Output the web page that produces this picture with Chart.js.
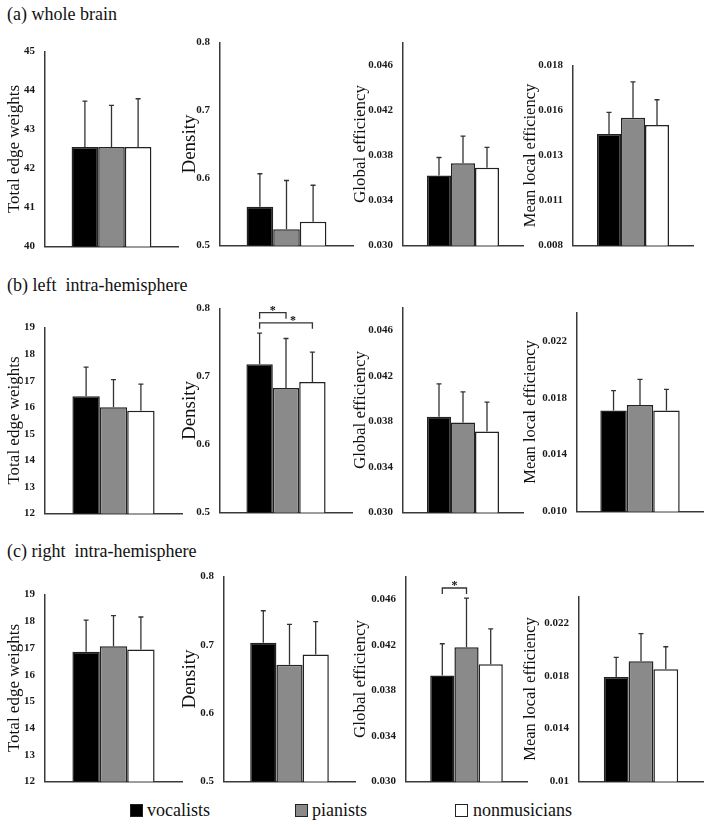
<!DOCTYPE html>
<html>
<head>
<meta charset="utf-8">
<script src="https://cdn.jsdelivr.net/npm/chart.js@4.4.0/dist/chart.umd.min.js"></script>
<style>
  body { margin: 0; background: #fff; }
  #fig { position: relative; width: 709px; height: 825px; font-family: "Liberation Serif", "Times New Roman", serif; color: #111; }
  #fig canvas { position: absolute; }
  .region { position: absolute; left: 7px; font-size: 18px; line-height: 20px; white-space: pre; }
  .key { position: absolute; top: 804px; width: 11px; height: 11px; border: 1px solid #222; }
  .keytext { position: absolute; top: 799px; font-size: 18px; line-height: 22px; }
</style>
</head>
<body>
<div id="fig"></div>
<script>
// groups, metrics and regions
var groups = ['vocalists', 'pianists', 'nonmusicians'];
var metrics = ['Total edge weights', 'Density', 'Global efficiency', 'Mean local efficiency'];
var regions = ['(a) whole brain', '(b) left  intra-hemisphere', '(c) right  intra-hemisphere'];

// means and SDs, one row per metric, [vocalists, pianists, nonmusicians]
var wholeMean = [[42.55, 42.55, 42.55], [0.557, 0.524, 0.535], [0.0362, 0.0373, 0.0369], [0.0142, 0.0151, 0.0147]];
var wholeSD   = [[1.18, 1.07, 1.24], [0.049, 0.072, 0.054], [0.0016, 0.0024, 0.0018], [0.0012, 0.0020, 0.0014]];
var leftMean  = [[16.41, 16.00, 15.87], [0.718, 0.683, 0.692], [0.0384, 0.0379, 0.0371], [0.0171, 0.0175, 0.0171]];
var leftSD    = [[1.10, 1.04, 1.00], [0.046, 0.073, 0.044], [0.0029, 0.0027, 0.0026], [0.0014, 0.0018, 0.0015]];
var rightMean = [[16.86, 17.06, 16.94], [0.703, 0.671, 0.686], [0.0393, 0.0418, 0.0403], [0.0179, 0.0191, 0.0185]];
var rightSD   = [[1.18, 1.15, 1.22], [0.047, 0.059, 0.048], [0.0028, 0.0043, 0.0031], [0.0015, 0.0021, 0.0017]];

// axis ranges and ticks
var edgeWholeRange = [40, 45];
var edgeWholeTicks = [40, 41, 42, 43, 44, 45];
var edgeHemiRange = [12, 19];
var edgeHemiTicks = [12, 13, 14, 15, 16, 17, 18, 19];
var densityRange = [0.5, 0.8];
var densityTicks = [0.5, 0.6, 0.7, 0.8];
var densityLabels = ['0.5', '0.6', '0.7', '0.8'];
var globalRange = [0.030, 0.048];
var globalTicks = [0.030, 0.034, 0.038, 0.042, 0.046];
var globalLabels = ['0.030', '0.034', '0.038', '0.042', '0.046'];
var localWholeRange = [0.008, 0.018];
var localWholeTicks = [0.008, 0.0105, 0.013, 0.0155, 0.018];
var localWholeLabels = ['0.008', '0.011', '0.013', '0.016', '0.018'];
var localHemiRange = [0.010, 0.024];
var localHemiTicks = [0.010, 0.014, 0.018, 0.022];
var localLeftLabels = ['0.010', '0.014', '0.018', '0.022'];
var localRightLabels = ['0.01', '0.014', '0.018', '0.022'];

// significance brackets: [metric, from group, to group, height]
var sigLeft = [[1, 0, 1, 0.794], [1, 0, 2, 0.779]];
var sigRight = [[2, 0, 1, 0.047]];

var means = [wholeMean, leftMean, rightMean];
var sds = [wholeSD, leftSD, rightSD];
var sigs = [[], sigLeft, sigRight];
var axes = [
  [[edgeWholeRange, edgeWholeTicks, null], [densityRange, densityTicks, densityLabels], [globalRange, globalTicks, globalLabels], [localWholeRange, localWholeTicks, localWholeLabels]],
  [[edgeHemiRange, edgeHemiTicks, null], [densityRange, densityTicks, densityLabels], [globalRange, globalTicks, globalLabels], [localHemiRange, localHemiTicks, localLeftLabels]],
  [[edgeHemiRange, edgeHemiTicks, null], [densityRange, densityTicks, densityLabels], [globalRange, globalTicks, globalLabels], [localHemiRange, localHemiTicks, localRightLabels]]
];

// layout: plot box per panel [left, top, bottom, right]
var boxes = [
  [[45, 47, 253, 178], [220, 38, 252, 353], [403, 38, 252, 523], [573, 61, 252, 693]],
  [[45, 323, 520, 182], [220, 304, 519, 352], [403, 303, 519, 523], [577, 308, 518, 703]],
  [[45, 590, 788, 182], [224, 572, 788, 355], [406, 572, 788, 527], [579, 592, 788, 703]]
];
var colLeft = [0, 176, 346, 516];
var titleSize = [17, 19, 17, 16.5];
var regionTop = [4, 275, 541];
var colors = ['#000000', '#8a8a8a', '#ffffff'];

Chart.defaults.font.family = '"Liberation Serif", "Times New Roman", serif';
Chart.defaults.color = '#1a1a1a';
Chart.defaults.animation = false;

var errorBars = {
  id: 'errorBars',
  afterDatasetsDraw: function(chart, args, opts) {
    var ctx = chart.ctx;
    var y = chart.scales.y;
    ctx.save();
    ctx.strokeStyle = '#333';
    ctx.lineWidth = 1.3;
    chart.data.datasets.forEach(function(ds, i) {
      var bar = chart.getDatasetMeta(i).data[0];
      var top = y.getPixelForValue(ds.data[0] + ds.sd);
      ctx.beginPath();
      ctx.moveTo(bar.x, bar.y);
      ctx.lineTo(bar.x, top);
      ctx.moveTo(bar.x - 2.5, top);
      ctx.lineTo(bar.x + 2.5, top);
      ctx.stroke();
    });

    var legs = [];
    var list = (opts.brackets || []).map(function(b) {
      var x1 = chart.getDatasetMeta(b[1]).data[0].x;
      var x2 = chart.getDatasetMeta(b[2]).data[0].x;
      legs.push(x1, x2);
      return [x1, x2, y.getPixelForValue(b[3])];
    });
    list.forEach(function(b) {
      var x1 = b[0], x2 = b[1], yl = b[2];
      ctx.beginPath();
      ctx.moveTo(x1, yl + 6);
      ctx.lineTo(x1, yl);
      ctx.lineTo(x2, yl);
      ctx.lineTo(x2, yl + 6);
      ctx.stroke();
      var mid = (x1 + x2) / 2;
      // move the star aside if another bracket leg sits under it
      legs.forEach(function(lx) { if (lx !== x1 && lx !== x2 && Math.abs(lx - mid) < 4) mid += 7; });
      ctx.fillStyle = '#111';
      ctx.font = 'bold 12px "Liberation Serif", serif';
      ctx.textAlign = 'center';
      ctx.textBaseline = 'alphabetic';
      ctx.fillText('*', mid, yl + 1);
    });
    ctx.restore();
  }
};

var fig = document.getElementById('fig');

regions.forEach(function(name, r) {
  var d = document.createElement('div');
  d.className = 'region';
  d.style.top = regionTop[r] + 'px';
  d.textContent = name;
  fig.appendChild(d);

  metrics.forEach(function(metric, m) {
    var box = boxes[r][m];
    var cx = colLeft[m];
    var cy = box[1] - 12;
    var w = box[3] - cx + 8;
    var h = box[2] - box[1] + 22;
    var axis = axes[r][m];
    var yw = box[0] - cx;
    var ts = titleSize[m];

    var cv = document.createElement('canvas');
    cv.width = w; cv.height = h;
    cv.style.left = cx + 'px'; cv.style.top = cy + 'px';
    fig.appendChild(cv);

    var brackets = sigs[r].filter(function(s) { return s[0] === m; });

    new Chart(cv, {
      type: 'bar',
      data: {
        labels: [''],
        datasets: groups.map(function(g, i) {
          return {
            label: g,
            data: [means[r][m][i]],
            sd: sds[r][m][i],
            backgroundColor: colors[i],
            borderColor: '#222',
            borderWidth: 1.5,
            borderSkipped: false,
            barPercentage: 1,
            categoryPercentage: (r === 1 && m === 3) ? 0.63 : 0.6
          };
        })
      },
      options: {
        responsive: false,
        devicePixelRatio: 1,
        layout: { padding: { top: 12, bottom: 10, left: 0, right: 8 } },
        plugins: {
          legend: { display: false },
          tooltip: { enabled: false },
          errorBars: { brackets: brackets }
        },
        scales: {
          x: {
            grid: { display: false },
            border: { display: true, color: '#3a3a3a', width: 1.5 },
            ticks: { display: false },
            afterFit: function(s) { s.height = 0; }
          },
          y: {
            min: axis[0][0],
            max: axis[0][1],
            grid: { display: false, drawTicks: false },
            border: { display: true, color: '#3a3a3a', width: 1.5 },
            ticks: {
              padding: 10,
              font: { size: 11, weight: 'bold' },
              color: '#1a1a1a',
              callback: function(v, i) { return axis[2] ? axis[2][i] : String(v); }
            },
            afterBuildTicks: function(s) {
              s.ticks = axis[1].map(function(v) { return { value: v }; });
            },
            afterFit: function(s) { s.width = yw; },
            title: {
              display: true,
              text: metric,
              font: { size: ts },
              color: '#111',
              padding: { top: 14.2 - ts * 0.6, bottom: 0 }
            }
          }
        }
      },
      plugins: [errorBars]
    });
  });
});

// shared legend
var keyX = [130, 295, 455];
var textX = [147, 312, 473];
groups.forEach(function(g, i) {
  var k = document.createElement('div');
  k.className = 'key';
  k.style.left = keyX[i] + 'px';
  k.style.background = colors[i];
  fig.appendChild(k);
  var t = document.createElement('div');
  t.className = 'keytext';
  t.style.left = textX[i] + 'px';
  t.textContent = g;
  fig.appendChild(t);
});
</script>
</body>
</html>
